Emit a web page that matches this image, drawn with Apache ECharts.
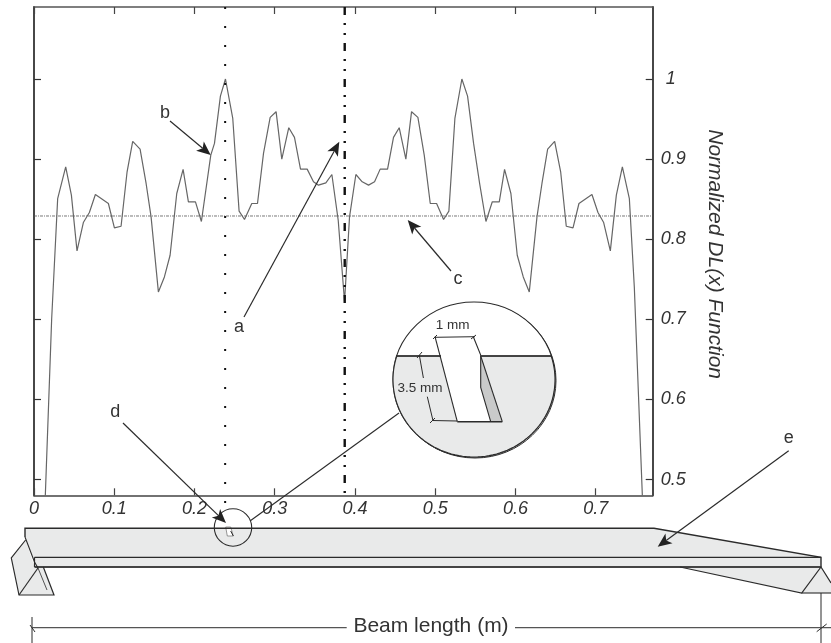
<!DOCTYPE html>
<html>
<head>
<meta charset="utf-8">
<style>html,body{margin:0;padding:0;background:#fff}#c{width:831px;height:643px}</style>
<script src="https://cdn.jsdelivr.net/npm/echarts@6/dist/echarts.min.js"></script>
</head>
<body>
<div id="c"></div>
<script>
const positions = [.0141,.0220,.0295,.0395,.0466,.0536,.0615,.0690,.0765,.0927,.1002,.1085,.1160,.1230,.1322,.1397,.1459,.1550,.1625,.1696,.1779,.1858,.1924,.2012,.2086,.2203,.2249,.2323,.2386,.2477,.2556,.2623,.2714,.2785,.2860,.2943,.3017,.3088,.3175,.3246,.3321,.3404,.3483,.3545,.3637,.3712,.3791,.3870,.3932,.4011,.4090,.4169,.4244,.4314,.4406,.4480,.4551,.4634,.4705,.4784,.4863,.4938,.5017,.5104,.5170,.5245,.5332,.5403,.5478,.5553,.5632,.5711,.5798,.5864,.5943,.6022,.6097,.6172,.6268,.6330,.6401,.6488,.6563,.6633,.6717,.6791,.6953,.7028,.7099,.7182,.7257,.7332,.7419,.7481,.7581];
const dlValues = [.48,.70,.8508,.8904,.8550,.7854,.8208,.8333,.8558,.8446,.8142,.8162,.8842,.9221,.9125,.8696,.8279,.7342,.7529,.7800,.8571,.8871,.8467,.8467,.8221,.9050,.9196,.9787,1.0,.9508,.8350,.8246,.8446,.8446,.9071,.9521,.9592,.9000,.9392,.9271,.8875,.8875,.8717,.8675,.8704,.8808,.8237,.722,.8279,.8808,.8717,.8675,.8717,.8875,.8875,.9271,.9392,.9000,.9592,.9521,.9050,.8446,.8446,.8246,.8350,.9508,1.0,.9787,.9196,.8696,.8221,.8467,.8467,.8871,.8571,.7800,.7529,.7342,.8279,.8696,.9125,.9221,.8842,.8162,.8142,.8446,.8558,.8333,.8208,.7854,.8550,.8904,.8508,.74,.48];
const xTicks = [0,0.1,0.2,0.3,0.4,0.5,0.6,0.7];
const yTicks = [0.5,0.6,0.7,0.8,0.9,1];
const xMax = 0.771, yMin = 0.4803, yMax = 1.0899;
const meanLevel = 0.829;
const crackPosition = 0.2382;
const centrePosition = 0.3872;
const dottedEnd = 0.455;

const INK = '#2b2b2b', FONT = '"Liberation Sans", Arial, sans-serif', GREY = '#e9eaea';

function line(pts, width, color, z) {
  return { type:'polyline', z: z||10, shape:{points:pts}, style:{stroke:color||INK, lineWidth:width||1, fill:null} };
}
function poly(pts, fill, stroke, width, z) {
  return { type:'polygon', z: z||8, shape:{points:pts}, style:{fill:fill, stroke:stroke||null, lineWidth:width||1} };
}
function label(text, x, y, size) {
  return { type:'text', z:12, style:{text:text, x:x, y:y, fontSize:size, fontFamily:FONT, fill:'#333', align:'center', verticalAlign:'middle'} };
}
function arrow(x1,y1,x2,y2) {
  const a = Math.atan2(y2-y1,x2-x1), L=14, W=6;
  const ca=Math.cos(a), sa=Math.sin(a);
  const bx=x2-L*ca, by=y2-L*sa;
  const nx=x2-L*0.75*ca, ny=y2-L*0.75*sa;
  return [
    line([[x1,y1],[nx,ny]],1.2),
    poly([[x2,y2],[bx-W*sa,by+W*ca],[nx,ny],[bx+W*sa,by-W*ca]],'#222',null,0,11)
  ];
}
// Lens: a white ellipse whose part below the beam surface is grey
const LX=474, LY=379.5, RX=81, RY=77.5, CHORD=356;
function lensBelow() {
  const t0=Math.asin((CHORD-LY)/RY), pts=[];
  for (let i=0;i<=80;i++){
    const t=t0+(Math.PI-2*t0)*i/80;
    pts.push([LX+RX*Math.cos(t),LY+RY*Math.sin(t)]);
  }
  return pts;
}
const graphics = [
  // beam body
  poly([[25,528.3],[654,528.3],[821,557.3],[821,567],[34.5,567],[34.5,560],[25.6,540],[25,537]],GREY,null,0,3),
  line([[25,537],[25,528.3],[654,528.3],[821,557.3],[821,567]],1.4),
  line([[34.5,557.3],[821,557.3]],1.3),
  line([[34.5,567],[821,567]],1.8,'#444'),
  line([[34.5,557.3],[34.5,567]],1.2),
  // left support
  poly([[25.6,540],[11.3,558],[19,595],[38,568],[34.5,567]],GREY,null,0,3),
  poly([[38,568],[19,595],[54,595],[43.3,567]],GREY,null,0,3),
  line([[25,537],[34.5,562],[38,568]],1.1),
  line([[25.6,540],[11.3,558],[19,595],[54,595],[43.3,567]],1.2),
  line([[38,568],[19,595]],1.2),
  line([[38,568],[47,590]],0.8),
  // right taper and support
  poly([[680,567],[821,567],[801.7,593]],GREY,null,0,3),
  poly([[821,567],[801.7,593],[831,593],[831,583]],GREY,null,0,3),
  line([[680,567],[801.7,593],[821,567],[831,583]],1.2),
  line([[801.7,593],[831,593]],1.1),
  // dimension line
  line([[32,617],[32,643]],1),
  line([[821,593],[821,643]],1),
  line([[32,627.7],[346.7,627.7]],1.2,'#555'),
  line([[515,627.7],[831,627.7]],1.2,'#555'),
  line([[30,625],[35,632]],1),
  line([[816.7,631.7],[826.7,624]],1),
  label('Beam length (m)',431,626,21),
  // crack marker on the beam
  { type:'circle', z:10, shape:{cx:233,cy:527.5,r:18.7}, style:{fill:null,stroke:INK,lineWidth:1.1} },
  poly([[225.7,527],[230.7,527],[233.3,536],[227.3,536]],'#fff','#555',0.6,9),
  line([[230.7,531],[233.3,536]],1),
  line([[250,521],[399,413]],1.1),
  // lens
  { type:'ellipse', z:6, shape:{cx:LX+1,cy:LY+1,rx:RX,ry:RY}, style:{fill:'#fff',stroke:INK,lineWidth:1} },
  { type:'ellipse', z:7, shape:{cx:LX,cy:LY,rx:RX,ry:RY}, style:{fill:'#fff',stroke:INK,lineWidth:1.1} },
  poly(lensBelow(),GREY,INK,1.1,7),
  poly([[440,353],[481,353],[490.7,421.7],[457.3,421.7]],'#fff',null,0,8),
  poly([[480.7,356],[502.3,421.7],[490.7,421.7],[480.7,387.3]],'#c9caca',null,0,8),
  line([[396,356],[441,356]],1.6),
  line([[480.7,356],[551.7,356]],1.6),
  line([[435,336.7],[457.3,421.7]],1.1),
  line([[473.3,336.7],[480.7,355],[480.7,387.3],[490.7,421.7]],1.1),
  line([[480.7,356],[502.3,421.7]],1.1),
  line([[457.3,421.7],[502.3,421.7]],1.6),
  line([[432.3,420.5],[457.3,421]],1),
  line([[435,337.3],[475,336.7]],1),
  line([[433,339],[437,335]],1),
  line([[471,339],[476,335]],1),
  line([[417,358],[422,352]],1),
  line([[419.3,355],[423.4,378]],1),
  line([[427.3,396.7],[433,420.7]],1),
  line([[430,423],[435,418]],1),
  label('1 mm',452.7,325.7,13.5),
  label('3.5 mm',420,388,13.5),
  // letter labels
  label('a',239,327,18),
  label('b',165,113,18),
  label('c',458,279,18),
  label('d',115.3,412,18),
  label('e',788.7,438,18)
]
.concat(arrow(244,317,339.3,141.7))
.concat(arrow(170,121,210.7,155))
.concat(arrow(451,271,407.7,220))
.concat(arrow(123,423,226,523))
.concat(arrow(788.7,450.7,657.7,546.7));

const axisFont = { fontFamily:FONT, fontStyle:'italic', fontSize:18, color:'#333' };
const option = {
  animation:false,
  backgroundColor:'#fff',
  grid:{ left:34, right:178.3, top:7, bottom:147.7, containLabel:false },
  xAxis:[
    { type:'value', position:'bottom', min:0, max:xMax, splitLine:{show:false},
      axisLine:{onZero:false,lineStyle:{color:'#444',width:1.6}},
      axisTick:{inside:true,length:7,lineStyle:{color:'#444',width:1.2},customValues:xTicks},
      axisLabel:Object.assign({margin:5,customValues:xTicks,formatter:v=>String(v)},axisFont) },
    { type:'value', position:'top', min:0, max:xMax, splitLine:{show:false},
      axisLine:{onZero:false,lineStyle:{color:'#555',width:1.6}},
      axisTick:{inside:true,length:7,lineStyle:{color:'#444',width:1.2},customValues:xTicks},
      axisLabel:{show:false} }
  ],
  yAxis:[
    { type:'value', position:'right', min:yMin, max:yMax, splitLine:{show:false},
      name:'Normalized DL(x) Function', nameLocation:'middle', nameRotate:-90, nameGap:52,
      nameTextStyle:{fontFamily:FONT,fontStyle:'italic',fontSize:21,color:'#333',padding:[0,0,0,6]},
      axisLine:{onZero:false,lineStyle:{color:'#333',width:1.8}},
      axisTick:{inside:true,length:7,lineStyle:{color:'#333',width:1.2},customValues:yTicks},
      axisLabel:Object.assign({margin:8,customValues:yTicks,
        formatter:v=>v===1?'{one|1}':String(v),
        rich:{one:{fontFamily:FONT,fontStyle:'italic',fontSize:18,color:'#333',padding:[0,0,0,5]}}},axisFont) },
    { type:'value', position:'left', min:yMin, max:yMax, splitLine:{show:false},
      axisLine:{onZero:false,lineStyle:{color:'#333',width:1.8}},
      axisTick:{inside:true,length:7,lineStyle:{color:'#333',width:1.2},customValues:yTicks},
      axisLabel:{show:false} }
  ],
  series:[
    { name:'Mean level', type:'line', showSymbol:false, silent:true,
      data:[[0,meanLevel],[xMax,meanLevel]],
      lineStyle:{color:'#555',width:0.8,type:[3,1,1,1]} },
    { name:'Normalized DL(x)', type:'line', showSymbol:false, smooth:false, silent:true,
      data:positions.map((p,i)=>[p,dlValues[i]]),
      lineStyle:{color:'#666',width:1.2} },
    { name:'Crack position', type:'line', showSymbol:false, silent:true, clip:false,
      data:[[crackPosition,yMax],[crackPosition,dottedEnd]],
      lineStyle:{color:'#111',width:2,type:[2,17]} },
    { name:'Beam centre', type:'line', showSymbol:false, silent:true, clip:false,
      data:[[centrePosition,yMax],[centrePosition,yMin]],
      lineStyle:{color:'#111',width:2.4,type:[8,8,2,8,2,8]} }
  ],
  graphic:{ elements:graphics }
};
const chart = echarts.init(document.getElementById('c'),null,{renderer:'canvas'});
chart.setOption(option);
</script>
</body>
</html>
